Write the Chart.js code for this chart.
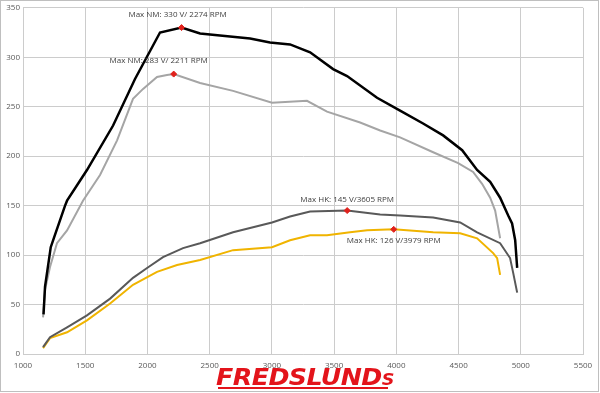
<!DOCTYPE html>
<html>
<head>
<meta charset="utf-8">
<script src="https://cdn.jsdelivr.net/npm/chart.js@4"></script>
<style>
  html, body { margin: 0; padding: 0; background: #fff; }
  #wrap { position: relative; width: 600px; height: 393px; }
  #logo {
    position: absolute; left: 216px; top: 364px;
    font-family: "DejaVu Sans", sans-serif; font-weight: bold; font-style: italic;
    font-size: 23px; color: #e3141b; letter-spacing: -0.5px;
    transform: scaleX(1.1); transform-origin: left top; line-height: 26px;
  }
  #logo small { font-size: 16px; }
  #logoBar { position: absolute; left: 218px; top: 387px; width: 170px; height: 2px; background: #e3141b; }
</style>
</head>
<body>
<div id="wrap">
  <canvas id="dynoChart" width="600" height="393"></canvas>
  <div id="logo">FREDSLUND<small>S</small></div>
  <div id="logoBar"></div>
</div>
<script>
// torque curves (NM)
var torqueRpm1 = [1165, 1177, 1223, 1250, 1338, 1354, 1514, 1724, 1900, 2101, 2274, 2423, 2583, 2825, 2985, 3146, 3307, 3492, 3604, 3845, 4030, 4215, 4376, 4529, 4649, 4754, 4834, 4899, 4930, 4955, 4971];
var torqueNm1 = [40, 68, 108, 118, 150, 155, 186, 231, 278, 325, 330, 324, 322, 319, 315, 313, 305, 288, 281, 259, 246, 233, 221, 206, 186, 174, 158, 140, 132, 115, 87];
var torqueRpm2 = [1161, 1177, 1217, 1273, 1354, 1482, 1619, 1756, 1884, 1965, 2077, 2157, 2211, 2423, 2688, 3001, 3282, 3443, 3709, 3870, 4030, 4296, 4497, 4617, 4689, 4754, 4794, 4834];
var torqueNm2 = [37, 65, 88, 112, 125, 155, 181, 216, 258, 268, 280, 282, 283, 274, 266, 254, 256, 245, 234, 226, 219, 204, 193, 184, 172, 158, 145, 117];
// power curves (HK)
var powerRpm1 = [1161, 1217, 1354, 1514, 1700, 1884, 1997, 2125, 2286, 2423, 2688, 3001, 3146, 3307, 3605, 3870, 4030, 4296, 4513, 4649, 4834, 4914, 4939, 4971];
var powerHk1 = [7, 17, 27, 39, 56, 77, 87, 98, 107, 112, 123, 133, 139, 144, 145, 141, 140, 138, 133, 123, 112, 97, 82, 62];
var powerRpm2 = [1161, 1217, 1354, 1514, 1700, 1884, 2077, 2238, 2423, 2688, 3001, 3146, 3307, 3443, 3628, 3765, 3979, 4296, 4513, 4649, 4778, 4810, 4834];
var powerHk2 = [6, 16, 22, 34, 51, 70, 83, 90, 95, 105, 108, 115, 120, 120, 123, 125, 126, 123, 122, 117, 102, 97, 80];
// max points
var maxRpm = [2274, 2211, 3605, 3979];
var maxVal = [330, 283, 145, 126];
var maxText = ["Max NM: 330 V/ 2274 RPM", "Max NM: 283 V/ 2211 RPM", "Max HK: 145 V/3605 RPM", "Max HK: 126 V/3979 RPM"];
var xTicks = [1000, 1500, 2000, 2500, 3000, 3500, 4000, 4500, 5000, 5500];

function toPoints(xs, ys) {
  return xs.map(function (x, i) { return { x: x, y: ys[i] }; });
}

var labelOffsets = [[-4, -13], [-15, -13], [0, -11], [0, 11]];

var maxLabels = {
  id: "maxLabels",
  afterDatasetsDraw: function (chart) {
    var ctx = chart.ctx;
    var xs = chart.scales.x, ys = chart.scales.y;
    ctx.save();
    ctx.font = "8px 'Open Sans', sans-serif";
    ctx.fillStyle = "#404040";
    ctx.textAlign = "center";
    ctx.textBaseline = "middle";
    maxText.forEach(function (t, i) {
      var px = xs.getPixelForValue(maxRpm[i]) + labelOffsets[i][0];
      var py = ys.getPixelForValue(maxVal[i]) + labelOffsets[i][1];
      ctx.fillText(t, px, py);
    });
    ctx.restore();
  },
};

var frame = {
  id: "frame",
  beforeDraw: function (chart) {
    var ctx = chart.ctx;
    ctx.save();
    ctx.fillStyle = "#fff";
    ctx.fillRect(0, 0, chart.width, chart.height);
    ctx.strokeStyle = "#bfbfbf";
    ctx.lineWidth = 1;
    ctx.strokeRect(0.5, 0.5, 598, 391);
    ctx.restore();
  },
};

var ctx = document.getElementById("dynoChart");
var myChart = new Chart(ctx, {
  type: "scatter",
  data: {
    datasets: [
      {
        label: "Max",
        data: toPoints(maxRpm, maxVal),
        backgroundColor: "#e0201b",
        borderColor: "#e0201b",
        pointStyle: "rectRot",
        pointRadius: 3,
        showLine: false,
      },
      {
        label: "NM 1",
        data: toPoints(torqueRpm1, torqueNm1),
        borderColor: "#000000",
        borderWidth: 2.5,
        showLine: true,
        pointRadius: 0,
      },
      {
        label: "NM 2",
        data: toPoints(torqueRpm2, torqueNm2),
        borderColor: "#a5a5a5",
        borderWidth: 2,
        showLine: true,
        pointRadius: 0,
      },
      {
        label: "HK 1",
        data: toPoints(powerRpm1, powerHk1),
        borderColor: "#595959",
        borderWidth: 2,
        showLine: true,
        pointRadius: 0,
      },
      {
        label: "HK 2",
        data: toPoints(powerRpm2, powerHk2),
        borderColor: "#f0b400",
        borderWidth: 2,
        showLine: true,
        pointRadius: 0,
      },
    ],
  },
  options: {
    responsive: false,
    animation: false,
    layout: { padding: { left: 0, right: 17, top: 7, bottom: 0 } },
    scales: {
      x: {
        type: "linear",
        min: 1000,
        max: 5500,
        afterBuildTicks: function (scale) {
          scale.ticks = xTicks.map(function (v) { return { value: v }; });
        },
        afterFit: function (scale) { scale.height = 39; },
        grid: { color: "#cccccc", drawTicks: false },
        border: { color: "#cccccc" },
        ticks: {
          padding: 7,
          color: "#595959",
          font: { family: "Open Sans", size: 8 },
          maxRotation: 0,
          callback: function (v) { return String(v); },
        },
      },
      y: {
        min: 0,
        max: 350,
        afterFit: function (scale) { scale.width = 23; },
        grid: { color: "#cccccc", drawTicks: false },
        border: { color: "#cccccc" },
        ticks: { stepSize: 50, padding: 3, color: "#595959", font: { family: "Open Sans", size: 8 } },
      },
    },
    plugins: {
      legend: { display: false },
      tooltip: { enabled: false },
    },
  },
  plugins: [frame, maxLabels],
});
</script>
</body>
</html>
